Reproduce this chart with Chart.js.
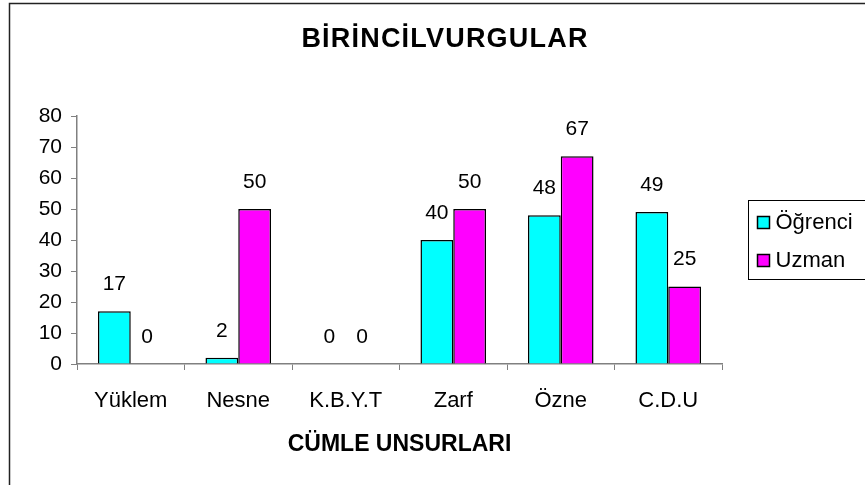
<!DOCTYPE html>
<html>
<head>
<meta charset="utf-8">
<script src="https://cdn.jsdelivr.net/npm/chart.js@4"></script>
<style>
  body { margin: 0; background: #fff; }
  #wrap { width: 865px; height: 485px; }
</style>
</head>
<body>
<div id="wrap"><canvas id="myChart" width="865" height="485"></canvas></div>
<script>
// chart values
const categories = ["Yüklem", "Nesne", "K.B.Y.T", "Zarf", "Özne", "C.D.U"];
const ogrenci = [17, 2, 0, 40, 48, 49];
const uzman = [0, 50, 0, 50, 67, 25];
const seriesNames = ["Öğrenci", "Uzman"];
const chartTitle = "BİRİNCİLVURGULAR";
const xTitle = "CÜMLE UNSURLARI";

const FONT = "'Liberation Sans', Arial, sans-serif";

// border, title, value labels and the boxed legend
const decorations = {
  id: "decorations",
  afterDraw(chart) {
    const ctx = chart.ctx;
    ctx.save();
    // outer frame
    ctx.strokeStyle = "#222";
    ctx.lineWidth = 1.5;
    ctx.strokeRect(9.5, 3.5, 1000, 1000);

    // title
    ctx.fillStyle = "#000";
    ctx.font = "bold 27px " + FONT;
    ctx.textAlign = "center";
    ctx.textBaseline = "middle";
    ctx.letterSpacing = "1.2px";
    ctx.fillText(chartTitle, 445, 40);
    ctx.letterSpacing = "0px";

    // value labels above bars
    ctx.font = "21px " + FONT;
    chart.data.datasets.forEach((ds, i) => {
      const meta = chart.getDatasetMeta(i);
      meta.data.forEach((bar, j) => {
        ctx.fillText(String(ds.data[j]), bar.x, bar.y - 27);
      });
    });

    // legend
    const lx = 748.5, ly = 200.5, lw = 130, lh = 79;
    ctx.lineWidth = 1;
    ctx.strokeStyle = "#000";
    ctx.strokeRect(lx, ly, lw, lh);
    ctx.textAlign = "left";
    ctx.font = "22px " + FONT;
    chart.data.datasets.forEach((ds, i) => {
      const cy = ly + 22 + i * 38;
      ctx.fillStyle = ds.backgroundColor;
      ctx.lineWidth = 1.5;
      ctx.fillRect(lx + 9, cy - 6, 12, 12);
      ctx.strokeRect(lx + 9, cy - 6, 12, 12);
      ctx.fillStyle = "#000";
      ctx.fillText(ds.label, lx + 27, cy);
    });
    ctx.restore();
  }
};

const ctx = document.getElementById("myChart").getContext("2d");
const myChart = new Chart(ctx, {
  type: "bar",
  data: {
    labels: categories,
    datasets: [
      {
        label: seriesNames[0],
        data: ogrenci,
        backgroundColor: "#00FFFF",
        borderColor: "#000",
        borderWidth: 1.5,
        barPercentage: 1,
        categoryPercentage: 0.61
      },
      {
        label: seriesNames[1],
        data: uzman,
        backgroundColor: "#FF00FF",
        borderColor: "#000",
        borderWidth: 1.5,
        barPercentage: 1,
        categoryPercentage: 0.61
      }
    ]
  },
  options: {
    responsive: false,
    animation: false,
    layout: { padding: { left: 9, right: 143, top: 116, bottom: 0 } },
    plugins: {
      legend: { display: false },
      tooltip: { enabled: false },
      title: { display: false }
    },
    scales: {
      y: {
        min: 0,
        max: 80,
        ticks: { stepSize: 10, color: "#000", font: { family: FONT, size: 21 }, padding: 9 },
        grid: { drawOnChartArea: false, drawTicks: true, tickLength: 6, color: "#808080" },
        border: { color: "#808080", width: 1.5 },
        afterFit(scale) { scale.width = 68; }
      },
      x: {
        ticks: { color: "#000", font: { family: FONT, size: 22 }, padding: 18, maxRotation: 0 },
        grid: { drawOnChartArea: false, drawTicks: true, tickLength: 6, color: "#808080", offset: true },
        border: { color: "#808080", width: 1.5 },
        title: {
          display: true,
          text: xTitle,
          color: "#000",
          font: { family: FONT, size: 23, weight: "bold" },
          padding: { top: 0, bottom: 27 }
        },
        afterFit(scale) { scale.height = 121; }
      }
    }
  },
  plugins: [decorations]
});
</script>
</body>
</html>
